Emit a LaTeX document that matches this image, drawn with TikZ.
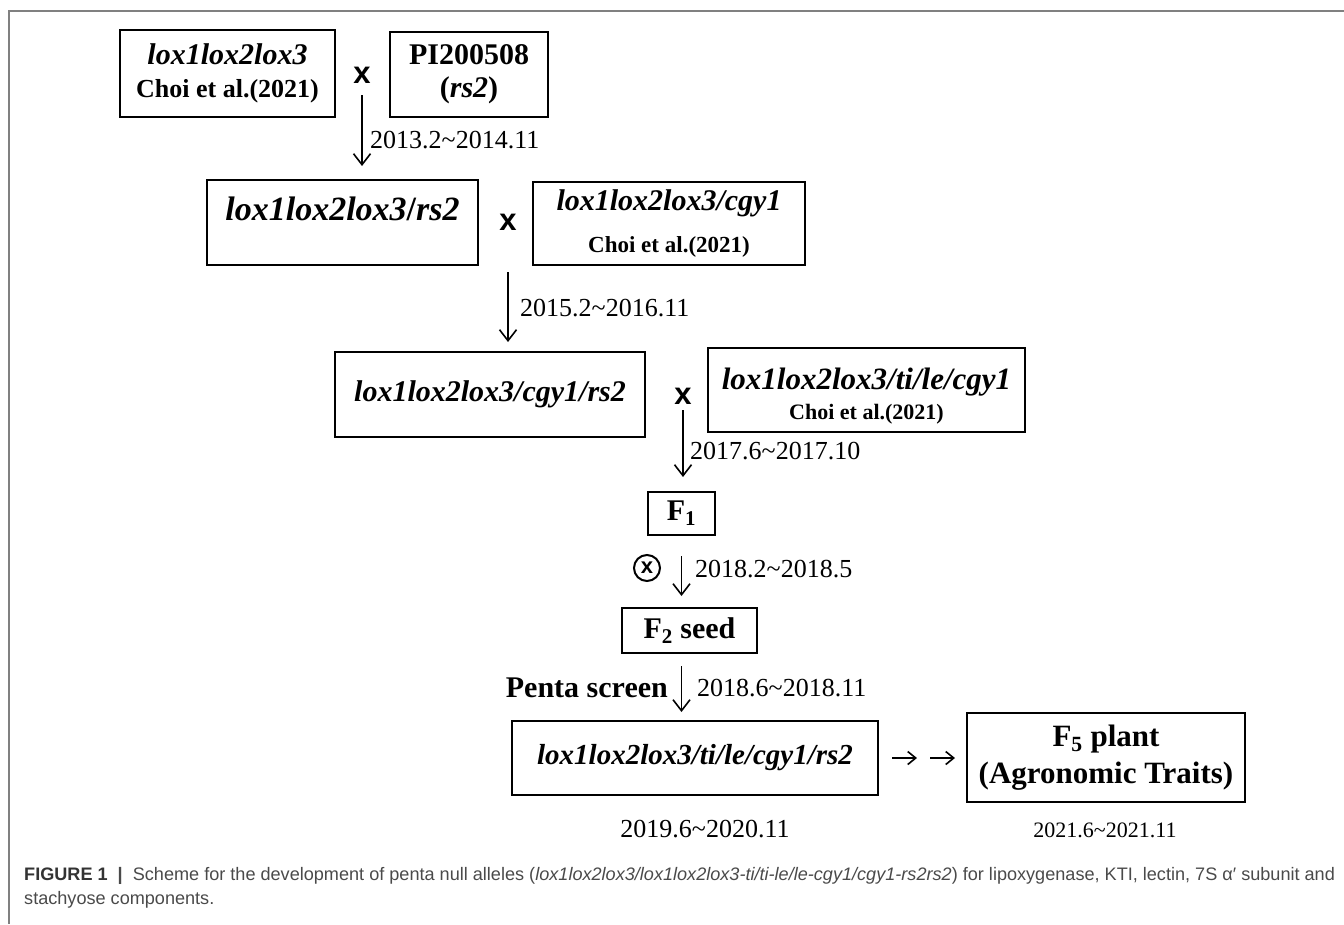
\documentclass[tikz,border=0pt]{standalone}
\usepackage{fontspec}
\setmainfont{Liberation Serif}
\newfontfamily\capfont{Liberation Sans}
\usepackage{tikz}
\usetikzlibrary{arrows,arrows.meta,positioning,calc}
\definecolor{framegray}{HTML}{808080}
\definecolor{capgray}{HTML}{4A4A4A}
\newcommand{\fs}[2]{\fontsize{#1}{#2}\selectfont}
\newcommand{\til}{\textasciitilde}
\tikzstyle{box}=[draw,line width=2pt,inner sep=0pt,align=center,font=\bfseries\fs{30}{33}]
\tikzstyle{cross}=[inner sep=0pt,font=\capfont\bfseries\fs{31}{31}]
\tikzstyle{flow}=[line width=1.6pt,-{Straight Barb[length=11pt,width=17pt]}]
\tikzstyle{small flow}=[line width=1.6pt,-{Straight Barb[length=8pt,width=13pt]}]
\tikzstyle{date}=[inner sep=0pt,anchor=base west,font=\fs{26}{28}]

\begin{document}
\begin{tikzpicture}[x=1pt,y=-1pt]
    \useasboundingbox (0,0) rectangle (1344,924);
    \draw[framegray,line width=1.5pt] (1344,11) -- (9,11) -- (9,924);

    \node [box,minimum width=215pt,minimum height=87pt] (parentA) at (227.5,73.5)
      {\textit{lox1lox2lox3}\\{\fs{26}{33}Choi et al.(2021)}};
    \node [cross] (crossA) at (362,75) {x};
    \node [box,minimum width=158pt,minimum height=85pt] (parentB) at (469,74.5)
      {PI200508\\(\textit{rs2})};

    \node [box,minimum width=271pt,minimum height=85pt,font=\bfseries\fs{34}{36},text height=25pt,text depth=30pt] (lineC) at (342.5,222.5)
      {\textit{lox1lox2lox3}/\textit{rs2}};
    \node [cross] (crossB) at (508,222) {x};
    \node [box,minimum width=272pt,minimum height=83pt,font=\bfseries\fs{30}{42}] (parentD) at (669,223.5)
      {\textit{lox1lox2lox3/cgy1}\\{\fs{23}{42}Choi et al.(2021)}};

    \node [box,minimum width=310pt,minimum height=85pt] (lineE) at (490,394.5)
      {\textit{lox1lox2lox3/cgy1/rs2}};
    \node [cross] (crossC) at (683,396) {x};
    \node [box,minimum width=317pt,minimum height=84pt,font=\bfseries\fs{31}{30}] (parentF) at (866.5,390)
      {\rule{0pt}{34pt}\textit{lox1lox2lox3/ti/le/cgy1}\\{\fs{22}{30}Choi et al.(2021)}};

    \node [box,minimum width=67pt,minimum height=43pt] (fone) at (681.5,513.5)
      {F\textsubscript{1}};
    \node [box,minimum width=135pt,minimum height=45pt] (ftwo) at (689.5,630.5)
      {F\textsubscript{2} seed};
    \node [draw,circle,line width=2pt,minimum size=26pt,inner sep=0pt,font=\capfont\bfseries\fs{22}{22}] (selfing) at (647,568) {x};

    \node [box,minimum width=366pt,minimum height=74pt,font=\bfseries\fs{29}{33}] (penta) at (695,758)
      {\textit{lox1lox2lox3/ti/le/cgy1/rs2}};
    \node [box,minimum width=278pt,minimum height=89pt,font=\bfseries\fs{31}{37}] (ffive) at (1106,757.5)
      {F\textsubscript{5} plant\\(Agronomic Traits)};
    \coordinate (mid) at (923,758);

    \node [inner sep=0pt,anchor=base east,font=\bfseries\fs{30}{30}] (screen) at (668,697) {Penta screen};

    \draw [flow,shorten <=12pt,shorten >=13pt] (crossA.south) -- (crossA.south |- lineC.north);
    \draw [flow,shorten <=42pt,shorten >=9pt] (crossB.south) -- (crossB.south |- lineE.north);
    \draw [flow,shorten <=6pt,shorten >=14pt] (crossC.south) -- (crossC.south |- fone.north);
    \draw [flow,shorten <=20pt,shorten >=11pt] (fone.south) -- (ftwo.north -| fone.south);
    \draw [flow,shorten <=12pt,shorten >=8pt] (ftwo.south -| fone.south) -- (penta.north -| fone.south);
    \draw [small flow,shorten <=13pt,shorten >=6pt] (penta.east) -- (mid);
    \draw [small flow,shorten <=7pt,shorten >=11pt] (mid) -- (ffive.west |- mid);

    \node [date] (dateA) at (370,148) {2013.2\til 2014.11};
    \node [date] (dateB) at (520,316) {2015.2\til 2016.11};
    \node [date] (dateC) at (690,459) {2017.6\til 2017.10};
    \node [date] (dateD) at (695,577) {2018.2\til 2018.5};
    \node [date] (dateE) at (697,696) {2018.6\til 2018.11};
    \node [date,anchor=base] (dateF) at (705,837) {2019.6\til 2020.11};
    \node [date,anchor=base,font=\fs{22}{24}] (dateG) at (1105,837) {2021.6\til 2021.11};

    \node [inner sep=0pt,anchor=base west,font=\capfont\fs{18.1}{24},text=capgray] (caption) at (24,880)
      {{\bfseries\color{black!80}FIGURE 1} \ {\bfseries|} \ Scheme for the development of penta null alleles (\textit{lox1lox2lox3/lox1lox2lox3-ti/ti-le/le-cgy1/cgy1-rs2rs2}) for lipoxygenase, KTI, lectin, 7S α′ subunit and};
    \node [inner sep=0pt,anchor=base west,font=\capfont\fs{18.1}{24},text=capgray] (caption2) at (24,904)
      {stachyose components.};
\end{tikzpicture}
\end{document}
